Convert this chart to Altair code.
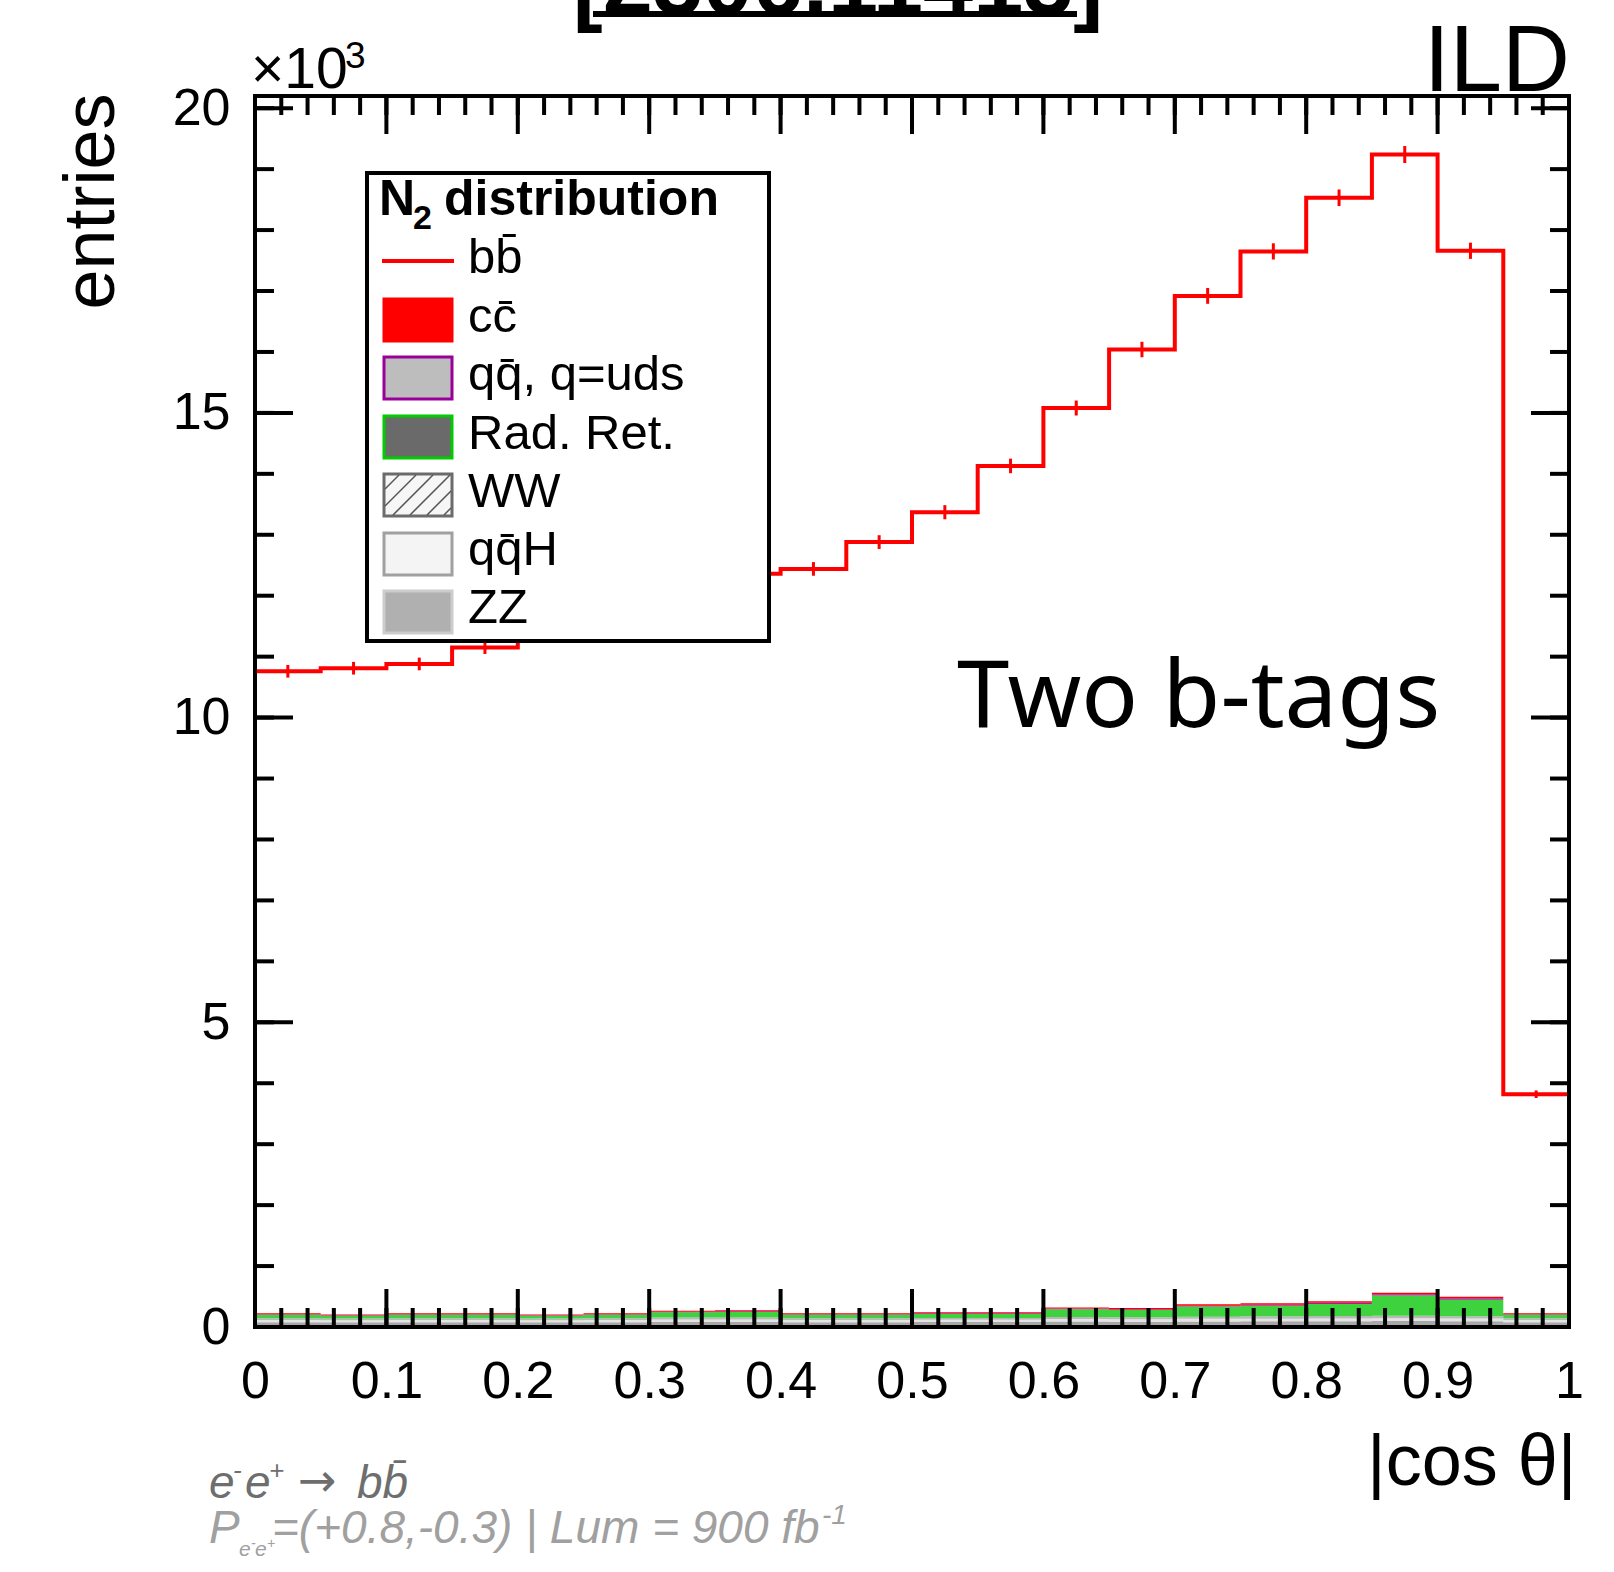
import altair as alt
import pandas as pd

# ---------------- data ----------------
bin_lo = [0.0, 0.05, 0.1, 0.15, 0.2, 0.25, 0.3, 0.35, 0.4, 0.45,
          0.5, 0.55, 0.6, 0.65, 0.7, 0.75, 0.8, 0.85, 0.9, 0.95]
bin_mid = [0.025, 0.075, 0.125, 0.175, 0.225, 0.275, 0.325, 0.375, 0.425, 0.475,
           0.525, 0.575, 0.625, 0.675, 0.725, 0.775, 0.825, 0.875, 0.925, 0.975]
x_end = 1.0

bb = [10760, 10810, 10880, 11150, 11350, 11650, 12000, 12360, 12440, 12880,
      13370, 14130, 15080, 16040, 16920, 17650, 18530, 19240, 17660, 3820]
bb_err = [104, 104, 104, 106, 107, 108, 110, 111, 112, 113,
          116, 119, 123, 127, 130, 133, 136, 139, 133, 62]

zz = [80, 78, 80, 80, 78, 80, 85, 85, 80, 80, 82, 82, 90, 88, 92, 95, 95, 100, 95, 80]
qqh = [35, 33, 35, 35, 33, 35, 38, 38, 35, 35, 36, 36, 40, 40, 42, 42, 44, 45, 44, 35]
ww = [30, 28, 30, 30, 28, 30, 32, 32, 30, 30, 30, 30, 35, 34, 36, 38, 40, 40, 38, 30]
radret = [55, 45, 55, 55, 45, 55, 85, 90, 55, 55, 65, 65, 125, 118, 165, 175, 200, 330, 272, 55]
qq_uds = [10, 10, 10, 10, 10, 10, 12, 12, 10, 10, 12, 12, 14, 13, 15, 15, 17, 23, 22, 10]
cc = [14, 13, 14, 14, 13, 14, 16, 16, 14, 14, 15, 15, 18, 18, 22, 23, 25, 25, 26, 14]

stack_names = ["ZZ", "qqH", "WW", "Rad. Ret.", "qq uds", "cc"]
stack_values = [zz, qqh, ww, radret, qq_uds, cc]
stack_colors = ["#a8a8a8", "#e4e4e4", "#b8b8b8", "#3fd23f", "#9b1fa8", "#ff0000"]

x_major = [0, 0.1, 0.2, 0.3, 0.4, 0.5, 0.6, 0.7, 0.8, 0.9, 1.0]
x_minor = [round(i * 0.02, 2) for i in range(51)]
y_major = [0, 5000, 10000, 15000, 20000]
y_minor = [i * 1000 for i in range(21)]

legend_labels = ["bb\u0304", "cc\u0304", "qq\u0304, q=uds", "Rad. Ret.", "WW", "qq\u0304H", "ZZ"]

# ---------------- layout ----------------
W, H = 1314, 1231
PL, PT = 255, 96
FONT = "Liberation Sans"


def px(v):
    return v - PL


def py(v):
    return v - PT


one = pd.DataFrame({"d": [0]})

xscale = alt.Scale(domain=[0, 1], nice=False, zero=False)
yscale = alt.Scale(domain=[0, 20200], nice=False, zero=False)

xaxis = alt.Axis(values=x_major, format="~g", ticks=False, tickSize=0, domain=False, grid=False,
                 labelFontSize=52, labelFont=FONT, labelColor="black", labelPadding=29,
                 labelFlush=False, labelOverlap=False,
                 title="|cos \u03b8|", titleFont=FONT, titleFontSize=72, titleFontWeight="normal",
                 titleColor="black", titleAlign="right", titleBaseline="alphabetic",
                 titleAnchor="end", titleX=W + 7, titleY=157)
yaxis = alt.Axis(values=y_major, labelExpr="datum.value/1000", ticks=False, tickSize=0, domain=False,
                 grid=False, labelFontSize=52, labelFont=FONT, labelColor="black", labelPadding=25,
                 labelOverlap=False, labelFlush=False,
                 title="entries", titleFont=FONT, titleFontSize=72, titleFontWeight="normal",
                 titleColor="black", titleAngle=270, titleAlign="right", titleBaseline="alphabetic",
                 titleAnchor="end", titleX=-142, titleY=-3)

# stacked backgrounds
rows = []
for k, (name, vals) in enumerate(zip(stack_names, stack_values)):
    xs = bin_lo + [x_end]
    ys = vals + [vals[-1]]
    for xv, yv in zip(xs, ys):
        rows.append({"x": xv, "y": yv, "proc": name, "ord": k})
df_stack = pd.DataFrame(rows)

area = alt.Chart(df_stack).mark_area(interpolate="step-after").encode(
    x=alt.X("x:Q", scale=xscale, axis=xaxis),
    y=alt.Y("y:Q", scale=yscale, axis=yaxis, stack="zero"),
    color=alt.Color("proc:N", scale=alt.Scale(domain=stack_names, range=stack_colors), legend=None),
    order=alt.Order("ord:Q", sort="ascending"),
)

df_bb = pd.DataFrame({"x": bin_lo + [x_end], "y": bb + [bb[-1]]})
bb_line = alt.Chart(df_bb).mark_line(interpolate="step-after", color="#ff0000", strokeWidth=4).encode(
    x=alt.X("x:Q", scale=xscale, axis=xaxis),
    y=alt.Y("y:Q", scale=yscale, axis=yaxis),
)

df_err = pd.DataFrame({"x": bin_mid, "lo": [v - e for v, e in zip(bb, bb_err)],
                       "hi": [v + e for v, e in zip(bb, bb_err)]})
err = alt.Chart(df_err).mark_rule(color="#ff0000", strokeWidth=3).encode(
    x=alt.X("x:Q", scale=xscale, axis=xaxis),
    y=alt.Y("lo:Q", scale=yscale, axis=yaxis),
    y2="hi:Q",
)

# ticks (inward, on all four sides)
df_xmaj = pd.DataFrame({"x": x_major})
df_xmin = pd.DataFrame({"x": x_minor})
df_ymaj = pd.DataFrame({"y": y_major})
df_ymin = pd.DataFrame({"y": y_minor})


def xticks(df, y0, y1):
    return alt.Chart(df).mark_rule(color="black", strokeWidth=4).encode(
        x=alt.X("x:Q", scale=xscale, axis=xaxis), y=alt.value(y0), y2=alt.value(y1))


def yticks(df, x0, x1):
    return alt.Chart(df).mark_rule(color="black", strokeWidth=4).encode(
        y=alt.Y("y:Q", scale=yscale, axis=yaxis), x=alt.value(x0), x2=alt.value(x1))


ticks = [
    xticks(df_xmaj, H, H - 38), xticks(df_xmin, H, H - 19),
    xticks(df_xmaj, 0, 38), xticks(df_xmin, 0, 19),
    yticks(df_ymaj, 0, 38), yticks(df_ymin, 0, 19),
    yticks(df_ymaj, W, W - 38), yticks(df_ymin, W, W - 19),
]

frame = alt.Chart(one).mark_rect(fillOpacity=0, stroke="black", strokeWidth=4).encode(
    x=alt.value(0), x2=alt.value(W), y=alt.value(0), y2=alt.value(H))


def txt(s, xf, yf, size, align="left", color="black", weight="normal", style="normal", font=FONT):
    return alt.Chart(one).mark_text(text=s, align=align, baseline="alphabetic", fontSize=size,
                                    font=font, fontWeight=weight, fontStyle=style, color=color).encode(
        x=alt.value(px(xf)), y=alt.value(py(yf)))


def prule(x0, y0, x1, y1, color="black", w=3):
    return alt.Chart(one).mark_rule(color=color, strokeWidth=w).encode(
        x=alt.value(px(x0)), y=alt.value(py(y0)), x2=alt.value(px(x1)), y2=alt.value(py(y1)))


def prect(x0, y0, x1, y1, fill, stroke=None, w=3):
    kw = dict(fill=fill, strokeWidth=w)
    if stroke is not None:
        kw["stroke"] = stroke
    return alt.Chart(one).mark_rect(**kw).encode(
        x=alt.value(px(x0)), y=alt.value(py(y0)), x2=alt.value(px(x1)), y2=alt.value(py(y1)))


# legend
LX0, LX1 = 382, 454
centers = [261, 320, 378, 437, 495, 554, 612]
baselines = [273, 332, 390, 449, 507, 565, 623]
legend = [prect(367, 173, 769, 641, "white", "black", 4)]
legend.append(txt("N", 379, 215, 50, weight="bold"))
legend.append(txt("2", 413, 229, 34, weight="bold"))
legend.append(txt("distribution", 444, 215, 50, weight="bold"))
legend.append(prule(LX0, centers[0], LX1, centers[0], "#ff0000", 4))
sym_fill = ["#ff0000", "#bdbdbd", "#6a6a6a", "#f6f6f6", "#f4f4f4", "#b0b0b0"]
sym_stroke = ["#ff0000", "#990099", "#00cc00", "#6b6b6b", "#a0a0a0", "#cccccc"]
for i in range(1, 7):
    c = centers[i]
    legend.append(prect(LX0 + 2, c - 21, LX1 - 2, c + 21, sym_fill[i - 1], sym_stroke[i - 1], 3))
# hatch for WW
c = centers[4]
hx0, hx1, hy0, hy1 = LX0 + 3, LX1 - 3, c - 20, c + 20
hatch_rows = []
for k in range(hx0 + hy0 + 14, hx1 + hy1, 17):
    xa = max(hx0, k - hy1)
    xb = min(hx1, k - hy0)
    if xb > xa:
        hatch_rows.append({"x": px(xa), "y": py(k - xa), "x2": px(xb), "y2": py(k - xb)})
df_hatch = pd.DataFrame(hatch_rows)
legend.append(alt.Chart(df_hatch).mark_rule(color="#555555", strokeWidth=1.5).encode(
    x=alt.X("x:Q", scale=None), y=alt.Y("y:Q", scale=None),
    x2="x2:Q", y2="y2:Q"))
for lab, bl in zip(legend_labels, baselines):
    legend.append(txt(lab, 468, bl, 49))

# annotations
G1, G2 = "#6e6e6e", "#a0a0a0"
texts = [
    txt("ILD", 1570, 91, 94, align="right"),
    txt("\u00d710", 251, 88, 57),
    txt("3", 345, 68, 37),
    txt("Two b-tags", 957, 727, 94, font="Noto Sans"),
    txt("[2306.11413]", 838, 14, 90, align="center", weight="bold"),
    prule(593, 14, 1077, 14, "black", 6),
    # e-e+ -> bb
    txt("e", 209, 1498, 46, color=G1, style="italic"),
    txt("-", 233, 1479, 26, color=G1, style="italic"),
    txt("e", 245, 1498, 46, color=G1, style="italic"),
    txt("+", 269, 1479, 26, color=G1, style="italic"),
    txt("\u2192", 298, 1496, 46, color=G1, font="DejaVu Sans"),
    txt("bb\u0304", 357, 1498, 46, color=G1, style="italic"),
    # polarisation / lumi line
    txt("P", 209, 1543, 46, color=G2, style="italic"),
    txt("e", 239, 1556, 21, color=G2, style="italic"),
    txt("-", 251, 1548, 14, color=G2, style="italic"),
    txt("e", 255, 1556, 21, color=G2, style="italic"),
    txt("+", 267, 1548, 14, color=G2, style="italic"),
    txt("=(+0.8,-0.3) | Lum = 900 fb", 272, 1543, 46, color=G2, style="italic"),
    txt("-1", 822, 1524, 28, color=G2, style="italic"),
]

chart = alt.layer(area, bb_line, err, *ticks, frame, *legend, *texts).properties(
    width=W, height=H,
    autosize=alt.AutoSizeParams(type="none"),
    padding={"left": PL, "top": PT, "right": 1614 - PL - W, "bottom": 1572 - PT - H},
).configure_view(strokeWidth=0).configure(background="white")

chart.save("out.html", embed_options={"renderer": "svg", "actions": False})
